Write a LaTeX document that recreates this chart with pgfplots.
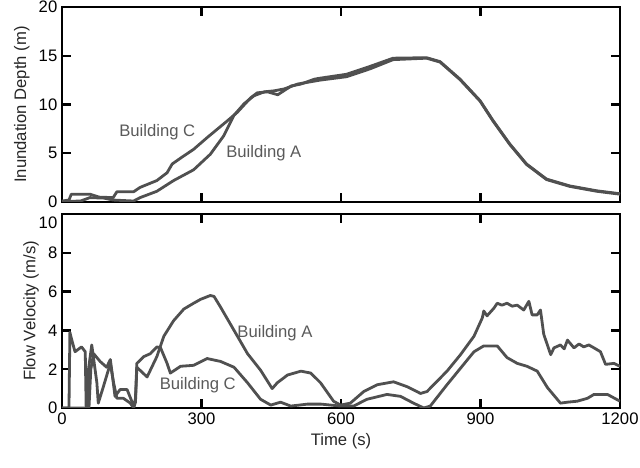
\documentclass[border=0pt]{standalone}
\usepackage{fontspec}
\setmainfont{Liberation Sans}
\usepackage{pgfplots}
\pgfplotsset{compat=1.18}
\usetikzlibrary{calc}

\definecolor{linegray}{HTML}{505050}
\definecolor{labgray}{HTML}{5A5A5A}

\newcommand{\lab}{\fontsize{12.5}{15}\selectfont}

\pgfplotsset{
  series/.style={color=linegray, line width=2.1pt, mark=none, line join=round},
  panel/.style={
    scale only axis, width=418.5pt,
    xmin=0, xmax=1200, xtick={0,300,...,1200},
    axis line style={line width=2pt},
    major tick length=7pt,
    major tick style={black, line width=1.8pt},
    tick label style={font=\lab},
    label style={font=\lab, text=black!85},
    /pgf/number format/assume math mode=true,
    /pgf/number format/1000 sep={},
  }
}

\begin{document}
\begin{tikzpicture}
% inundation depth
\begin{axis}[panel, name=top, height=146.25pt,
  ymin=0, ymax=20, ytick={0,5,...,20}, xticklabels={},
  ylabel={Inundation Depth (m)}]
\addplot[series] coordinates {(0,0.1) (15,0.2) (20,0.8) (60,0.8) (80,0.5) (110,0.45) (118,1.05) (154,1.05) (168,1.5) (204,2.2) (226,3.0) (237,3.9) (258,4.6) (283,5.4) (312,6.6) (355,8.3) (377,9.2) (406,10.7) (420,11.2) (442,11.3) (464,11.0) (493,11.9) (514,12.1) (543,12.6) (555,12.7) (612,13.1) (662,13.9) (712,14.75) (784,14.8) (813,14.4) (856,12.6) (899,10.4) (927,8.35) (963,5.95) (999,3.9) (1042,2.35) (1092,1.65) (1150,1.15) (1200,0.85)};
\addplot[series] coordinates {(0,0.05) (40,0.1) (60,0.45) (90,0.4) (110,0.2) (154,0.1) (168,0.45) (204,1.1) (240,2.2) (283,3.3) (319,4.9) (348,6.8) (370,8.9) (392,10.1) (413,10.9) (435,11.3) (456,11.4) (478,11.6) (507,12.1) (543,12.4) (555,12.5) (612,12.85) (662,13.65) (712,14.6) (784,14.75) (813,14.35) (856,12.55) (899,10.35) (927,8.3) (963,5.9) (999,3.85) (1042,2.3) (1092,1.6) (1150,1.1) (1200,0.8)};
\node[labgray, font=\lab] at (axis cs:205,7.2) {Building C};
\node[labgray, font=\lab] at (axis cs:434,5.05) {Building A};
\end{axis}

% flow velocity
\begin{axis}[panel, name=bot, height=145.5pt,
  at={($(top.south west)+(0,-9pt)$)}, anchor=north west,
  ymin=0, ymax=10, ytick={0,2,...,10}, yticklabels={0,2,4,6,8,{}},
  xlabel={Time (s)}, ylabel={Flow Velocity (m/s)}]
\addplot[series] coordinates {(0,0) (15,0) (17,3.9) (20,3.6) (28,2.9) (42,3.15) (50,2.9) (52,0) (55,0) (57,2.0) (64,3.25) (75,1.3) (78,0.25) (89,1.1) (104,2.3) (111,1.3) (118,0.5) (132,0.5) (147,0.25) (154,0) (158,0.3) (161,2.1) (183,1.6) (204,2.65) (219,3.7) (240,4.5) (262,5.1) (283,5.4) (298,5.6) (319,5.8) (327,5.75) (341,5.2) (370,4.0) (399,2.8) (427,1.95) (452,1.0) (463,1.3) (485,1.7) (514,1.9) (535,1.8) (556,1.3) (584,0.35) (599,0.15) (620,0.25) (649,0.85) (678,1.2) (713,1.35) (742,1.1) (771,0.75) (785,0.85) (828,1.9) (857,2.75) (886,3.7) (904,4.65) (907,5.0) (914,4.75) (929,5.15) (936,5.4) (946,5.3) (957,5.4) (968,5.25) (979,5.3) (993,5.05) (1004,5.5) (1011,4.8) (1022,4.8) (1029,5.05) (1036,3.8) (1051,2.75) (1058,3.1) (1072,3.25) (1080,3.05) (1087,3.5) (1101,3.1) (1112,3.3) (1122,3.15) (1133,3.25) (1144,3.1) (1158,2.9) (1169,2.25) (1187,2.3) (1200,2.15)};
\addplot[series] coordinates {(0,0) (58,0) (62,2.0) (68,2.8) (82,2.4) (96,2.1) (104,2.5) (114,0.6) (125,0.95) (140,0.95) (150,0.35) (154,0) (158,0.5) (161,2.3) (176,2.65) (190,2.8) (204,3.15) (212,3.1) (226,2.3) (233,1.8) (255,2.15) (283,2.2) (312,2.55) (341,2.4) (370,2.1) (399,1.3) (427,0.45) (449,0.15) (470,0.3) (492,0.1) (528,0.2) (557,0.2) (599,0.1) (627,0.1) (656,0.45) (699,0.7) (728,0.6) (756,0.25) (778,0) (792,0.1) (828,1.2) (857,2.05) (886,2.9) (907,3.2) (936,3.2) (957,2.6) (979,2.3) (1000,2.15) (1022,1.9) (1044,1.05) (1072,0.25) (1087,0.3) (1108,0.35) (1130,0.5) (1144,0.7) (1173,0.7) (1200,0.35)};
\node[labgray, font=\lab] at (axis cs:458,3.87) {Building A};
\node[labgray, font=\lab] at (axis cs:292,1.19) {Building C};
\end{axis}
% top tick label of the lower panel sits a little low, as in the reference
\node[anchor=east, font=\lab, yshift=-6.5pt] at (bot.north west) {10};

\pgfresetboundingbox
\path[use as bounding box] ($(top.north west)+(-46.5pt,5.25pt)$) rectangle ($(top.north west)+(433.5pt,-345.75pt)$);
\end{tikzpicture}
\end{document}
